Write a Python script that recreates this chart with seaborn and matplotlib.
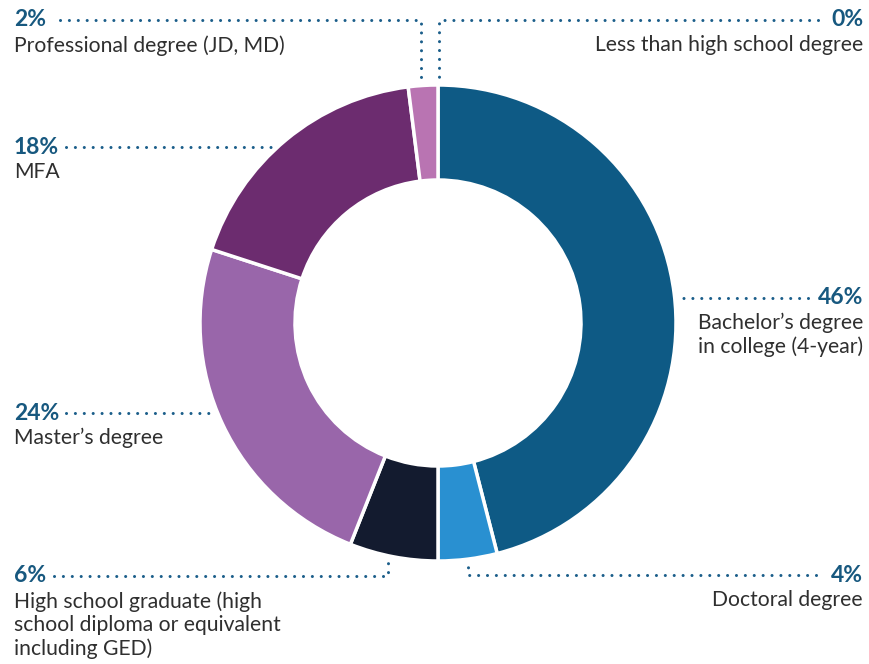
import matplotlib.pyplot as plt
import seaborn as sns

categories = ["Less than high school degree", "Bachelor\u2019s degree\nin college (4-year)",
              "Doctoral degree", "High school graduate (high\nschool diploma or equivalent\nincluding GED)",
              "Master\u2019s degree", "MFA", "Professional degree (JD, MD)"]
values = [0, 46, 4, 6, 24, 18, 2]
colors = ["#ffffff", "#0e5a85", "#2990d1", "#131b2f", "#9966aa", "#6c2c6f", "#b974b2"]

sns.set_theme(style="white")
plt.rcParams['font.family'] = ['Lato', 'DejaVu Sans']

pct_color = "#17587f"
dot_color = "#1b5e8a"
txt_color = "#2f2f2f"

fig = plt.figure(figsize=(8.69, 6.64), dpi=100)
ax = fig.add_axes([0, 0, 1, 1])
H = 664
cx, cy, R = 438, H - 323, 238

ax.pie(values, colors=colors, startangle=90, counterclock=False, radius=R,
       center=(cx, cy), wedgeprops=dict(width=95, edgecolor="white", linewidth=2.5))
ax.set_xlim(0, 869)
ax.set_ylim(0, H)
ax.set_aspect("equal")
ax.axis("off")


def dots(xs, ys):
    ax.plot(xs, [H - y for y in ys], color=dot_color, lw=2.2,
            linestyle=(0, (0.01, 2.9)), dash_capstyle="round", zorder=1)


def label(i, x, y, ha):
    ax.text(x, H - y, f"{values[i]}%", ha=ha, va="center", fontsize=16.5,
            fontweight="bold", color=pct_color)
    ax.text(x, H - y - 15, categories[i], ha=ha, va="top", fontsize=15.2,
            color=txt_color, linespacing=1.2)


# left side
label(6, 14, 20, "left")
dots([60, 421, 421], [20, 20, 82])
label(5, 14, 147, "left")
dots([66, 278], [147, 147])
label(4, 14, 413, "left")
dots([66, 214], [413, 413])
label(3, 14, 576, "left")
dots([54, 388, 388], [576, 576, 562])

# right side
label(0, 863, 20, "right")
dots([818, 439, 439], [20, 20, 82])
label(1, 863, 298, "right")
dots([808, 680], [298, 298])
label(2, 863, 575, "right")
dots([816, 468, 468], [575, 575, 560])

fig.savefig("out.png", dpi=100)
